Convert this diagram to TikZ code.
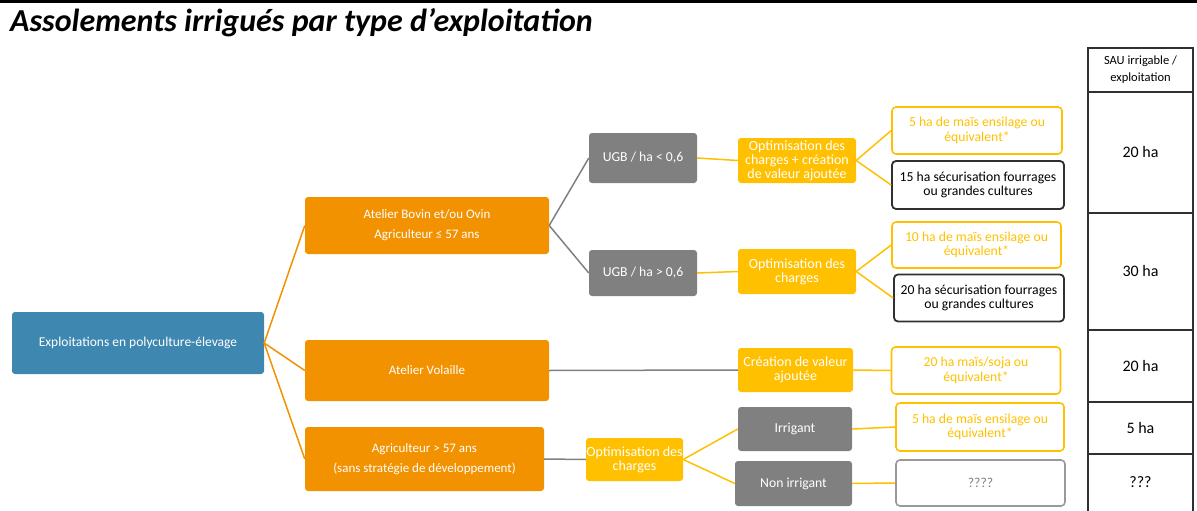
\documentclass[tikz,border=0pt]{standalone}
\usepackage{fontspec}
\setmainfont{Carlito}
\usepackage{tikz}
\usetikzlibrary{positioning}
\definecolor{cblue}{HTML}{3E87B0}
\definecolor{corange}{HTML}{F39200}
\definecolor{cgrey}{HTML}{808080}
\definecolor{cyellow}{HTML}{FFC000}
\definecolor{cdark}{HTML}{303030}
\tikzstyle{rootbox} = [rectangle, rounded corners = 3, fill = cblue, text = white,
  text centered, inner sep = 0, font = \fontsize{13.5}{15}\selectfont]
\tikzstyle{brbox} = [
  rectangle, rounded corners = 3, fill = corange, text = white,
  align = center, inner sep = 0, font = \fontsize{13}{20}\selectfont
]
\tikzstyle{greybox} = [rectangle, rounded corners = 3, fill = cgrey, text = white,
  align = center, inner sep = 0, font = \fontsize{13.7}{15}\selectfont]
\tikzstyle{optbox} = [rectangle, rounded corners = 3, fill = cyellow, text = white,
  align = center, inner sep = 0, font = \fontsize{14}{14}\selectfont]
\tikzstyle{cropbox} = [rectangle, rounded corners = 4, draw = cyellow, line width = 1.6,
  text = cyellow, align = center, inner sep = 0, font = \fontsize{13.7}{14.5}\selectfont]
\tikzstyle{secbox} = [rectangle, rounded corners = 4, draw = cdark, line width = 1.8,
  text = black, align = center, inner sep = 0, font = \fontsize{13.7}{14.5}\selectfont]
\tikzstyle{unkbox} = [rectangle, rounded corners = 4, draw = cgrey!80, line width = 1.6,
  text = cgrey, align = center, inner sep = 0, font = \fontsize{13.7}{14.5}\selectfont]
\tikzstyle{orline} = [draw = corange, line width = 1.5]
\tikzstyle{gline} = [draw = cgrey, line width = 1.5]
\tikzstyle{yline} = [draw = cyellow, line width = 1.5]
\tikzstyle{tabline} = [draw = cdark, line width = 1.8]
\tikzstyle{sauval} = [font = \fontsize{16}{18}\selectfont]

\begin{document}
\begin{tikzpicture}[x = 1pt, y = -1pt]
    \useasboundingbox (0, 0) rectangle (1197, 511);
    \draw [line width = 3] (0, 1.5) -- (1197, 1.5);
    \node [anchor = base west, inner sep = 0] (title) at (10, 32)
      {\fontsize{32}{34}\selectfont\bfseries\itshape Assolements irrigués par type d’exploitation};

    \node [rootbox, minimum width = 252, minimum height = 62] (root) at (138, 343)
      {Exploitations en polyculture-élevage};
    \node [brbox, minimum width = 244, minimum height = 57] (br-1) at (427, 225.5)
      {Atelier Bovin et/ou Ovin\\Agriculteur ≤ 57 ans};
    \node [brbox, minimum width = 244, minimum height = 61] (br-2) at (427, 370.5)
      {Atelier Volaille};
    \node [brbox, minimum width = 239, minimum height = 64] (br-3) at (424.5, 459)
      {Agriculteur > 57 ans\\(sans stratégie de développement)};

    \node [greybox, minimum width = 108, minimum height = 50] (ugb-1) at (643, 158)
      {UGB / ha < 0,6};
    \node [greybox, minimum width = 108, minimum height = 46] (ugb-2) at (643, 273)
      {UGB / ha > 0,6};
    \node [optbox, minimum width = 118, minimum height = 45] (opt-1) at (797, 160.5)
      {Optimisation des\\charges + création\\de valeur ajoutée};
    \node [optbox, minimum width = 118, minimum height = 45] (opt-2) at (797, 271.5)
      {Optimisation des\\charges};
    \node [optbox, minimum width = 115, minimum height = 44] (opt-3) at (795.5, 370)
      {Création de valeur\\ajoutée};
    \node [optbox, minimum width = 97, minimum height = 43] (opt-4) at (634.5, 459.5)
      {Optimisation des\\charges};
    \node [greybox, minimum width = 114, minimum height = 44] (irr-1) at (795, 429)
      {Irrigant};
    \node [greybox, minimum width = 117, minimum height = 45] (irr-2) at (793.5, 483.5)
      {Non irrigant};

    \node [cropbox, minimum width = 170, minimum height = 47] (crop-1) at (977, 130.5)
      {5 ha de maïs ensilage ou\\équivalent*};
    \node [secbox, minimum width = 172, minimum height = 48] (sec-1) at (978, 185)
      {15 ha sécurisation fourrages\\ou grandes cultures};
    \node [cropbox, minimum width = 169, minimum height = 46] (crop-2) at (976.5, 245)
      {10 ha de maïs ensilage ou\\équivalent*};
    \node [secbox, minimum width = 170, minimum height = 47] (sec-2) at (979, 298)
      {20 ha sécurisation fourrages\\ou grandes cultures};
    \node [cropbox, minimum width = 169, minimum height = 47] (crop-3) at (976, 370.5)
      {20 ha maïs/soja ou\\équivalent*};
    \node [cropbox, minimum width = 168, minimum height = 48] (crop-4) at (980, 427)
      {5 ha de maïs ensilage ou\\équivalent*};
    \node [unkbox, minimum width = 169, minimum height = 46] (unk) at (980.5, 483)
      {????};

    \draw [orline] (root.east) -- (br-1.west);
    \draw [orline] (root.east) -- (br-2.west);
    \draw [orline] (root.east) -- (br-3.west);
    \draw [gline] (br-1.east) -- (ugb-1.west);
    \draw [gline] (br-1.east) -- (ugb-2.west);
    \draw [gline] (br-2.east) -- (opt-3.west);
    \draw [gline] (br-3.east) -- (opt-4.west);
    \draw [yline] (ugb-1.east) -- (opt-1.west);
    \draw [yline] (ugb-2.east) -- (opt-2.west);
    \draw [yline] (opt-1.east) -- (crop-1.west);
    \draw [yline] (opt-1.east) -- (sec-1.west);
    \draw [yline] (opt-2.east) -- (crop-2.west);
    \draw [yline] (opt-2.east) -- (sec-2.west);
    \draw [yline] (opt-3.east) -- (crop-3.west);
    \draw [yline] (opt-4.east) -- (irr-1.west);
    \draw [yline] (opt-4.east) -- (irr-2.west);
    \draw [yline] (irr-1.east) -- (crop-4.west);
    \draw [yline] (irr-2.east) -- (unk.west);

    % table SAU
    \draw [tabline] (1088, 512) -- (1088, 48) -- (1193, 48) -- (1193, 512);
    \draw [tabline] (1088, 92) -- (1193, 92);
    \draw [tabline] (1088, 213) -- (1193, 213);
    \draw [tabline] (1088, 330) -- (1193, 330);
    \draw [tabline] (1088, 402) -- (1193, 402);
    \draw [tabline] (1088, 454) -- (1193, 454);
    \node [align = center, font = \fontsize{12.5}{17}\selectfont] (sau) at (1140.5, 70)
      {SAU irrigable /\\exploitation};
    \node [sauval] (sau-1) at (1140.5, 152.5) {20 ha};
    \node [sauval] (sau-2) at (1140.5, 271.5) {30 ha};
    \node [sauval] (sau-3) at (1140.5, 366) {20 ha};
    \node [sauval] (sau-4) at (1140.5, 428) {5 ha};
    \node [sauval] (sau-5) at (1140.5, 482) {???};
\end{tikzpicture}
\end{document}
